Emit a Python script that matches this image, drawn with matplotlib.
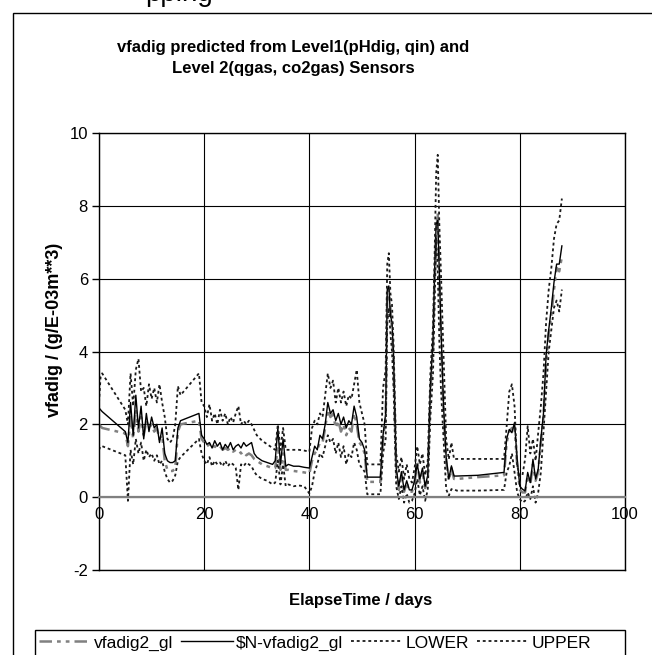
import matplotlib
matplotlib.use("Agg")
import matplotlib.pyplot as plt
from matplotlib.lines import Line2D
from matplotlib.patches import Rectangle

plt.rcParams["font.family"] = ["Liberation Sans", "DejaVu Sans"]
plt.rcParams["axes.unicode_minus"] = False

# elapsed time (days); straight runs are gaps in the logged data
days = [0, 0.3, 0.6,
        5.0, 5.5, 6.0, 6.5, 7.0, 7.5, 8.0, 8.5, 9.0, 9.5, 10.0, 10.5, 11.0, 11.5, 12.0, 12.5, 13.0, 13.5, 14.0, 14.5, 15.0, 15.5,
        19.0, 19.5,
        20.0, 20.5, 21.0, 21.5, 22.0, 22.5, 23.0, 23.5, 24.0, 24.5, 25.0, 25.5, 26.0, 26.5, 27.0, 27.5, 28.0, 28.5, 29.0, 29.5,
        30, 31, 32, 33, 33.5, 34, 34.5, 35, 35.5, 36, 37, 38, 39, 40,
        40.5, 41, 41.5, 42, 42.5, 43, 43.5, 44, 44.5, 45, 45.5, 46, 46.5, 47, 47.5, 48, 48.5, 49, 49.5, 50, 50.5, 51,
        53.5, 54, 54.5, 54.8, 55.1, 55.4, 55.7, 56, 56.5,
        57, 57.5, 58, 58.5, 59, 59.5, 60, 60.5, 61, 61.5, 62, 62.5,
        63, 63.5, 63.8, 64.1, 64.4, 64.7, 65, 65.5, 66, 66.5, 67, 67.5,
        68, 72, 77,
        77.5, 78, 78.5, 79, 79.5, 80, 80.5, 81, 81.5, 82, 82.5, 83, 83.5, 84,
        84.5, 85, 85.5, 86, 86.5, 87, 87.5, 88]

vfadig2_gl = [2.0, 1.95, 1.9,
              1.75, 1.4, 2.2, 1.6, 2.4, 1.8, 2.2, 1.7, 2.1, 1.9, 2.0, 1.8, 1.9, 1.6, 1.7, 1.0, 0.75, 0.72, 0.72, 0.8, 1.8, 2.0,
              2.1, 1.6,
              1.5, 1.4, 1.45, 1.35, 1.4, 1.35, 1.4, 1.3, 1.35, 1.3, 1.35, 1.25, 1.3, 1.3, 1.2, 1.25, 1.15, 1.2, 1.15, 1.05,
              1.0, 0.9, 0.85, 0.8, 0.8, 1.4, 0.75, 1.2, 0.75, 0.75, 0.72, 0.7, 0.68, 0.65,
              1.0, 1.2, 1.3, 1.5, 1.5, 1.9, 2.4, 2.2, 2.3, 1.9, 2.1, 1.8, 2.0, 1.7, 1.9, 1.8, 2.3, 2.0, 1.5, 1.4, 1.2, 0.42,
              0.42, 1.6, 2.2, 5.5, 5.7, 5.2, 4.6, 3.7, 0.7,
              0.2, 0.6, 0.15, 0.4, 0.15, 0.15, 0.4, 1.0, 0.4, 0.7, 0.25, 0.5,
              2.9, 4.1, 6.0, 7.3, 7.8, 6.0, 4.5, 2.4, 1.0, 0.45, 0.8, 0.5,
              0.5, 0.55, 0.6,
              1.5, 1.8, 1.9, 1.9, 0.9, 0.2, 0.13, 0.13, 0.6, 0.35, 0.9, 0.45, 0.7, 1.5,
              2.2, 3.7, 4.5, 5.0, 5.7, 6.3, 6.2, 6.6]

n_vfadig2_gl = [2.45, 2.4, 2.35,
                1.8, 1.5, 2.6, 1.7, 2.8, 1.9, 2.5, 1.6, 2.3, 1.8, 2.2, 1.9, 2.0, 1.5, 1.9, 1.2, 1.0, 0.95, 0.95, 1.0, 1.9, 2.1,
                2.3, 1.7,
                1.6, 1.45, 1.5, 1.35, 1.55, 1.4, 1.5, 1.3, 1.45, 1.35, 1.5, 1.3, 1.4, 1.45, 1.35, 1.5, 1.4, 1.45, 1.5, 1.2,
                1.1, 1.0, 0.95, 0.9, 1.0, 1.9, 0.9, 1.6, 0.85, 0.9, 0.85, 0.85, 0.82, 0.8,
                1.1, 1.4, 1.3, 1.7, 1.6, 2.0, 2.6, 2.3, 2.4, 2.1, 2.3, 2.0, 2.2, 1.9, 2.1, 2.0, 2.5, 2.2, 1.6, 1.5, 1.3, 0.55,
                0.55, 1.7, 2.3, 5.7, 5.8, 5.0, 4.8, 3.9, 0.8,
                0.3, 0.7, 0.2, 0.45, 0.2, 0.2, 0.45, 0.9, 0.5, 0.8, 0.3, 0.6,
                3.05, 4.3, 6.2, 7.5, 7.6, 6.2, 4.7, 2.5, 1.1, 0.5, 0.86, 0.58,
                0.58, 0.6, 0.68,
                1.6, 1.86, 1.77, 2.05, 1.04, 0.3, 0.22, 0.17, 0.68, 0.4, 1.04, 0.5, 0.77, 1.6,
                2.3, 3.9, 4.6, 5.2, 5.9, 6.4, 6.4, 6.9]

lower = [1.3, 1.4, 1.4,
         1.15, -0.1, 1.3, 0.9, 1.6, 1.2, 1.5, 1.0, 1.3, 1.1, 1.2, 1.0, 1.15, 0.9, 1.0, 0.7, 0.5, 0.4, 0.45, 0.6, 1.0, 1.1,
         1.6, 1.2,
         1.0, 0.9, 1.1, 0.85, 1.0, 0.9, 0.95, 0.85, 1.0, 0.85, 0.95, 0.9, 0.8, 0.2, 0.9, 0.85, 0.95, 0.9, 0.85, 0.7,
         0.6, 0.5, 0.45, 0.35, 0.4, 1.0, 0.35, 0.9, 0.3, 0.35, 0.3, 0.32, 0.3, 0.1,
         0.3, 0.7, 0.9, 1.2, 1.1, 1.4, 1.7, 1.5, 1.6, 1.2, 1.5, 1.1, 1.4, 0.9, 1.2, 1.1, 1.5, 1.3, 0.9, 0.8, 0.7, 0.08,
         0.08, 1.2, 1.6, 4.8, 5.2, 4.5, 4.0, 3.0, 0.3,
         -0.05, 0.3, -0.15, 0.1, -0.15, -0.1, 0.1, 0.5, 0.05, 0.3, -0.1, 0.2,
         2.2, 3.4, 5.2, 7.1, 6.2, 4.3, 3.0, 1.6, 0.22, 0.04, 0.22, 0.22,
         0.18, 0.18, 0.2,
         0.68, 0.86, 1.2, 0.68, 0.13, -0.05, -0.15, -0.1, 0.13, -0.05, 0.3, -0.15, 0.13, 0.68,
         1.77, 2.9, 4.0, 4.6, 5.2, 5.4, 5.1, 5.7]

upper = [2.6, 3.3, 3.4,
         2.4, 2.0, 3.4, 2.5, 3.5, 3.8, 2.9, 3.0, 2.5, 3.1, 2.7, 3.0, 2.6, 3.1, 2.6, 2.2, 1.6, 1.5, 1.6, 2.0, 3.05, 2.8,
         3.4, 2.6,
         2.5, 2.2, 2.55, 2.1, 2.3, 2.0, 2.4, 2.1, 2.3, 2.0, 2.2, 2.05, 2.3, 2.5, 2.0, 2.1, 2.0, 2.1, 2.0, 1.85,
         1.7, 1.55, 1.45, 1.35, 1.3, 2.0, 1.3, 1.9, 1.3, 1.3, 1.3, 1.3, 1.28, 1.25,
         1.9, 2.1, 2.0, 2.3, 2.2, 2.8, 3.4, 3.0, 3.2, 2.6, 3.0, 2.6, 2.9, 2.5, 2.8, 2.7, 3.1, 3.5, 2.6, 2.3, 2.0, 0.9,
         0.9, 3.0, 3.5, 6.4, 6.7, 5.6, 5.3, 4.2, 1.2,
         0.7, 1.1, 0.5, 0.9, 0.5, 0.4, 0.8, 1.4, 0.9, 1.2, 0.6, 1.0,
         3.4, 4.7, 6.6, 8.9, 9.4, 7.5, 6.2, 3.9, 1.6, 1.04, 1.5, 1.04,
         1.05, 1.05, 1.05,
         1.95, 2.9, 3.1, 2.5, 0.86, 0.58, 0.6, 1.04, 1.95, 1.2, 1.6, 1.0, 1.77, 2.5,
         3.4, 4.8, 5.7, 6.3, 7.1, 7.5, 7.6, 8.2]

series_labels = ["vfadig2_gl", "$N-vfadig2_gl", "LOWER", "UPPER"]
x_ticks = [0, 20, 40, 60, 80, 100]
y_ticks = [-2, 0, 2, 4, 6, 8, 10]

W, H = 652, 655
fig = plt.figure(figsize=(W / 100, H / 100), dpi=100)

# chart-area border (runs off the right and bottom of the picture)
fig.add_artist(Rectangle((13 / W, -0.1), 1.0, 1.1 - 13 / H, transform=fig.transFigure,
                         fill=False, ec="black", lw=1))

ax = fig.add_axes([99 / W, 1 - 570 / H, (625 - 99) / W, (570 - 133) / H])

dash_dot = dict(color="#808080", lw=1.8, dashes=[5, 2, 1.5, 2, 1.5, 2])
dotted = dict(color="#1a1a1a", lw=1.3, dashes=[1.6, 1.6])
ax.plot(days, vfadig2_gl, **dash_dot)
ax.plot(days, n_vfadig2_gl, color="black", lw=1.0)
ax.plot(days, lower, **dotted)
ax.plot(days, upper, **dotted)

ax.set_xlim(0, 100)
ax.set_ylim(-2, 10)
ax.set_xticks(x_ticks)
ax.set_yticks(y_ticks)
ax.grid(True, color="black", lw=0.8)

ax.spines["bottom"].set_position(("data", 0))
ax.spines["bottom"].set_color("#808080")
ax.spines["bottom"].set_linewidth(1.6)
for s in ["left", "right", "top"]:
    ax.spines[s].set_linewidth(1.0)
ax.axhline(-2, color="black", lw=1.0, clip_on=False)

ax.tick_params(axis="x", length=0, pad=7, labelsize=12)
ax.tick_params(axis="y", direction="out", length=5, width=1, pad=3, labelsize=12)

fig.text(293 / W, 1 - 58 / H, "vfadig predicted from Level1(pHdig, qin) and\nLevel 2(qgas, co2gas) Sensors",
         ha="center", va="center", fontsize=12, fontweight="bold", linespacing=1.55)
fig.text(55 / W, 1 - 330 / H, "vfadig / (g/E-03m**3)", rotation=90, ha="center", va="center",
         fontsize=13, fontweight="bold")
fig.text(361 / W, 1 - 601 / H, "ElapseTime / days", ha="center", va="center",
         fontsize=12, fontweight="bold")

# fragment of a heading cut off at the top of the picture
fig.text(145 / W, 1 - 1 / H, "pping", ha="left", va="baseline", fontsize=20)

# legend box, its lower edge falls off the picture
fig.add_artist(Rectangle((35 / W, -0.01), (625 - 35) / W, 0.01 + 1 - 630 / H,
                         transform=fig.transFigure, fill=False, ec="black", lw=1))
handles = [Line2D([], [], **dash_dot),
           Line2D([], [], color="black", lw=1.0),
           Line2D([], [], **dotted),
           Line2D([], [], **dotted)]
fig.legend(handles, series_labels, loc="center left", bbox_to_anchor=(39 / W, 1 - 643 / H),
           ncol=4, frameon=False, fontsize=12.5, handlelength=3.0, handletextpad=0.15,
           columnspacing=0.45, borderpad=0, borderaxespad=0)

fig.savefig("out.png", dpi=100)
